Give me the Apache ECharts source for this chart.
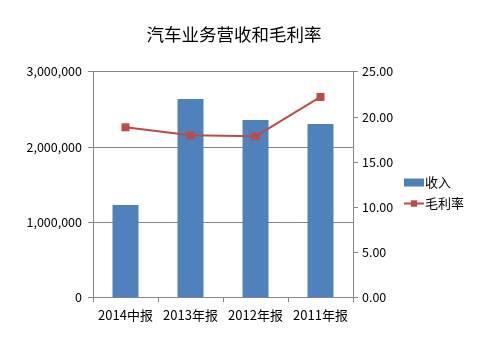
<!DOCTYPE html>
<html><head><meta charset="utf-8">
<script src="https://cdn.jsdelivr.net/npm/echarts@6/dist/echarts.min.js"></script>
<style>html,body{margin:0;padding:0;background:#fff}#c{width:481px;height:339px}</style>
</head><body><div id="c"></div>
<script>
const categories = ['2014中报', '2013年报', '2012年报', '2011年报'];
const revenue = [1227000, 2637000, 2358000, 2305000];
const margin = [18.84, 17.95, 17.84, 22.2];
const leftTicks = [0, 1000000, 2000000, 3000000];
const rightTicks = [0, 5, 10, 15, 20, 25];

const font = '"Microsoft YaHei","Noto Sans CJK SC","DejaVu Sans",sans-serif';
const chart = echarts.init(document.getElementById('c'));
chart.setOption({
  animation: false,
  textStyle: { fontFamily: font },
  title: { text: '汽车业务营收和毛利率', left: 229, top: 21, textAlign: 'center',
    textStyle: { fontSize: 17.5, fontWeight: 'normal', color: '#000', fontFamily: font } },
  legend: { orient: 'vertical', left: 398, top: 171, itemGap: 8, itemWidth: 20, itemHeight: 8,
    textStyle: { fontSize: 13, color: '#000', fontFamily: font, padding: [0, 0, 0, -4] },
    data: [{ name: '收入', icon: 'rect' }, { name: '毛利率' }] },
  grid: { left: 93, right: 128, top: 71.7, bottom: 41.7, containLabel: false },
  xAxis: { type: 'category', data: categories,
    axisLine: { lineStyle: { color: '#868686' } },
    axisTick: { show: true, alignWithLabel: false, length: 5, lineStyle: { color: '#868686' } },
    axisLabel: { color: '#000', fontSize: 13, margin: 11, interval: 0 } },
  yAxis: [
    { type: 'value', min: leftTicks[0], max: leftTicks[leftTicks.length - 1], interval: 1000000,
      axisLine: { show: true, lineStyle: { color: '#868686' } },
      axisTick: { show: true, length: 5, lineStyle: { color: '#868686' } },
      splitLine: { show: true, lineStyle: { color: '#868686' } },
      axisLabel: { color: '#000', fontSize: 12.5, margin: 11,
        formatter: v => v.toLocaleString('en-US') } },
    { type: 'value', min: rightTicks[0], max: rightTicks[rightTicks.length - 1], interval: 5,
      axisLine: { show: true, lineStyle: { color: '#868686' } },
      axisTick: { show: true, length: 5, lineStyle: { color: '#868686' } },
      splitLine: { show: false },
      axisLabel: { color: '#000', fontSize: 12.5, margin: 9, formatter: v => v.toFixed(2) } }
  ],
  series: [
    { name: '收入', type: 'bar', data: revenue, barWidth: 26, itemStyle: { color: '#4F81BD' } },
    { name: '毛利率', type: 'line', yAxisIndex: 1, data: margin, symbol: 'rect', symbolSize: 8,
      lineStyle: { color: '#BE4B48', width: 2 }, itemStyle: { color: '#BE4B48' } }
  ]
});
</script></body></html>
